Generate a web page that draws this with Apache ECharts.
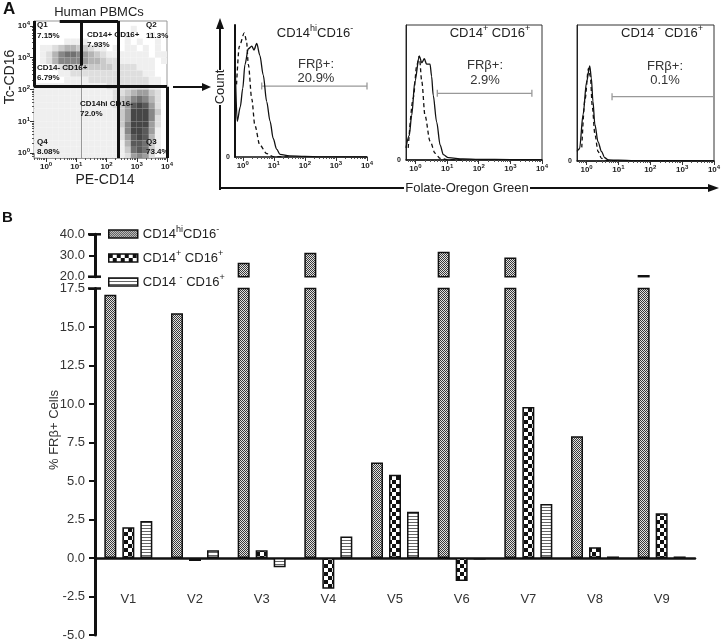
<!DOCTYPE html>
<html><head><meta charset="utf-8">
<script src="https://cdn.jsdelivr.net/npm/echarts@6/dist/echarts.min.js"></script>
<style>html,body{margin:0;padding:0;background:#fff}#c{width:721px;height:640px}</style>
</head><body><div id="c"></div>
<script>
// ===== Panel B data =====
const categories = ['V1','V2','V3','V4','V5','V6','V7','V8','V9'];
const seriesNames = ['CD14hiCD16-','CD14+ CD16+','CD14- CD16+'];
const hiNegValues  = [17.1, 15.9, 26.6, 31.3, 6.2, 31.8, 29.0, 7.9, 20.8];
const posPosValues = [2.0, -0.2, 0.5, -2.0, 5.4, -1.5, 9.8, 0.7, 2.9];
const negPosValues = [2.4, 0.5, -0.6, 1.4, 3.0, -0.1, 3.5, 0.1, 0.1];
const lowerAxis = [-5, 17.5, 2.5];   // min, max, interval
const upperAxis = [20, 40, 10];

// ===== Panel A histogram data (x = log10 fluorescence, y = relative count) =====
const histSolid1  = [[-0.24,66],[-0.18,27],[-0.08,38],[0.0,52],[0.07,70],[0.18,82],[0.29,84],[0.36,81],[0.45,86],[0.55,77],[0.66,62],[0.77,42],[0.88,27],[0.98,14],[1.09,6],[1.2,2],[1.5,0.8],[2.0,0.4],[2.5,0.1],[4.0,0]];
const histDashed1 = [[-0.2,55],[-0.11,84],[0.05,94],[0.12,88],[0.18,70],[0.29,44],[0.39,24],[0.55,9],[0.77,2.6],[0.98,0.3],[1.5,0]];
const histSolid2  = [[-0.3,9],[-0.2,18],[-0.12,33],[-0.02,58],[0.12,77],[0.2,72],[0.28,75],[0.35,71],[0.46,71],[0.51,62],[0.56,48],[0.67,28],[0.78,11],[0.88,4],[1.04,1.7],[1.5,0.8],[2.0,0.5],[3.0,0.3],[4.0,0.2]];
const histDashed2 = [[-0.23,9],[-0.07,46],[0.04,70],[0.12,77],[0.2,58],[0.3,33],[0.46,14],[0.62,5],[0.78,1.2],[1.0,0.3],[1.5,0]];
const histSolid3  = [[-0.3,7],[-0.22,9],[-0.11,34],[0.0,58],[0.1,70],[0.15,61],[0.2,44],[0.26,27],[0.36,14],[0.47,7],[0.57,2.4],[0.68,0.8],[1.0,0.6],[1.5,0.3],[2.0,0.2],[4.0,0.1]];
const histDashed3 = [[-0.15,10],[-0.05,45],[0.06,68],[0.12,62],[0.18,40],[0.26,20],[0.36,7],[0.47,2],[0.6,0.5],[1.0,0]];
const histGates   = [[0.61,4.0,53.7],[0.69,3.68,49.4],[0.8,4.0,47.3]]; // x from, x to, y level
const histTitles  = ['CD14{s|hi}CD16{s|-}','CD14{s|+} CD16{s|+}','CD14 {s|-} CD16{s|+}'];
const histPercent = ['20.9%','2.9%','0.1%'];
const histXRange  = [[-0.25,4],[-0.3,4],[-0.3,4]];

// ===== Panel A dot plot: density levels (0-9) in 0.2-decade bins, top row first =====
const dotXStart = -0.4, dotYStart = -0.2, dotBin = 0.2;
const dotDensityRows = [
 "0000000000000000000000",
 "0000000000000000100000",
 "0000000000000001000100",
 "0000011110000001010010",
 "0112344332110101101010",
 "0124677654321111111011",
 "0124666654432211111101",
 "0001233333333222211100",
 "0000112222222222221100",
 "0000011112222222222110",
 "1111111111112222222110",
 "1111111111111223455320",
 "1111111111111234676420",
 "1111111111111235898520",
 "1111111111111135999630",
 "1111111111111135999620",
 "1111111111111136999520",
 "1111111111111126998510",
 "1111111111111125898410",
 "1111111111111114887310",
 "1111111111111113787310",
 "0111111111111112565200"
];
const gateThick = [[[-0.4,2.09],[-0.4,4.15]],[[0.45,4.15],[2.38,4.15]],[[1.15,4.15],[1.15,2.75]],[[2.38,4.15],[2.38,-0.15]],[[-0.4,2.09],[4.0,2.09]],[[4.0,2.09],[4.0,-0.15]]];
const gateThin  = [[[1.15,2.75],[1.15,-0.15]]];
const quadLabels = [['Q1',37,25],['7.15%',37,36],['CD14+ CD16+',87,35],['7.93%',87,45],['Q2',146,25],['11.3%',146,36],
  ['CD14- CD16+',37,68],['6.79%',37,78],['CD14hi CD16-',80,104],['72.0%',80,114],['Q4',37,142],['8.08%',37,152],['Q3',146,142],['73.4%',146,152]];

// ---------- helpers ----------
const FONT = 'Liberation Sans';
function minorTicks(lo, hi){const out=[];for(let d=-1;d<5;d++)for(let k=2;k<10;k++){const v=d+Math.log10(k);if(v>lo&&v<hi)out.push(v);}return out;}
const decades = [0,1,2,3,4];
const supFmt = v => '{b|10}{s|' + Math.round(v) + '}';
const supRich = {b:{fontSize:8,fontWeight:'bold',color:'#222',lineHeight:11,fontFamily:FONT},s:{fontSize:6,fontWeight:'bold',color:'#222',verticalAlign:'top',lineHeight:6,fontFamily:FONT}};
function logAxes(grid, min, max, isY, lineColor, lineWidth){
  const main = {gridIndex:grid,type:'value',min:min,max:max,
    axisLine:{show:true,onZero:false,lineStyle:{color:lineColor,width:lineWidth}},
    axisTick:{show:true,customValues:decades,length:4,lineStyle:{color:'#333'}},
    axisLabel:{customValues:decades,formatter:supFmt,rich:supRich,margin:isY?4:3},
    splitLine:{show:false}};
  const minor = {gridIndex:grid,type:'value',min:min,max:max,position:isY?'left':'bottom',
    axisLine:{show:false,onZero:false},axisLabel:{show:false},splitLine:{show:false},
    axisTick:{show:true,customValues:minorTicks(min,max),length:2,lineStyle:{color:'#555'}}};
  return [main, minor];
}
function makePattern(w,h,draw){const c=document.createElement('canvas');c.width=w;c.height=h;const g=c.getContext('2d');draw(g);return {image:c,repeat:'repeat'};}
const patFine = makePattern(2,2,g=>{g.fillStyle='#e2e2e2';g.fillRect(0,0,2,2);g.fillStyle='#3a3a3a';g.fillRect(0,0,1,1);g.fillRect(1,1,1,1);});
const patCheck = makePattern(8,8,g=>{g.fillStyle='#fff';g.fillRect(0,0,8,8);g.fillStyle='#111';g.fillRect(0,0,4,4);g.fillRect(4,4,4,4);});
const patStripe = makePattern(1,3,g=>{g.fillStyle='#fff';g.fillRect(0,0,1,3);g.fillStyle='#666';g.fillRect(0,0,1,1);});
const patterns = [patFine, patCheck, patStripe];
const grays = [null,'#efefef','#dedede','#cacaca','#b4b4b4','#9e9e9e','#878787','#717171','#5a5a5a','#464646'];

const dotCells = [];
dotDensityRows.forEach((row,r)=>{const j=dotDensityRows.length-1-r;for(let i=0;i<row.length;i++){const l=+row[i];if(l>0)dotCells.push([dotXStart+i*dotBin,dotYStart+j*dotBin,l]);}});

// ---------- grids ----------
const grids = [
  {left:34,top:21,width:133,height:137,show:true,borderColor:'#999',borderWidth:1},
  {left:235,top:25,width:132,height:132},
  {left:406,top:25,width:136,height:135,show:true,borderColor:'#333',borderWidth:1},
  {left:577,top:25,width:137,height:136,show:true,borderColor:'#333',borderWidth:1},
  {left:95,top:234.3,width:600,height:42.4},
  {left:95,top:288.5,width:600,height:346.5}
].map(g=>Object.assign(g,{outerBoundsMode:'none',containLabel:false}));

const xAxes = [], yAxes = [];
xAxes.push(...logAxes(0,-0.4,4,false,'#999',1));          // 0,1
yAxes.push(...logAxes(0,-0.15,4.15,true,'#999',1));       // 0,1
const histLine = [['#111',2],['#222',1],['#222',1]];
for(let h=0;h<3;h++){
  xAxes.push(...logAxes(h+1,histXRange[h][0],histXRange[h][1],false,'#111',1.5)); // 2..7
  yAxes.push({gridIndex:h+1,type:'value',min:0,max:100,
    axisLine:{show:true,onZero:false,lineStyle:{color:histLine[h][0],width:histLine[h][1]}},
    axisTick:{show:false},splitLine:{show:false},
    axisLabel:{customValues:[0],formatter:()=>'0',fontSize:7,fontWeight:'bold',color:'#222',margin:5}}); // 2,3,4
}
xAxes.push({gridIndex:4,type:'category',data:categories,show:false}); // 8
xAxes.push({gridIndex:5,type:'category',data:categories,
  axisLine:{onZero:true,lineStyle:{color:'#111',width:2.5}},
  axisTick:{alignWithLabel:true,length:6,lineStyle:{color:'#111',width:2}},
  axisLabel:{show:false}}); // 9
const barY = (grid, ax) => ({gridIndex:grid,type:'value',min:ax[0],max:ax[1],interval:ax[2],
  axisLine:{show:true,onZero:false,lineStyle:{color:'#111',width:3}},
  axisTick:{show:true,length:6,lineStyle:{color:'#111',width:2}},
  axisLabel:{formatter:v=>v.toFixed(1),fontSize:13,color:'#333',margin:10,fontFamily:FONT},
  splitLine:{show:false}});
yAxes.push(barY(4,upperAxis)); // 5
yAxes.push(barY(5,lowerAxis)); // 6

// ---------- series ----------
const series = [];
series.push({type:'custom',xAxisIndex:0,yAxisIndex:0,data:dotCells,encode:{x:0,y:1},silent:true,z:1,
  renderItem:(params,api)=>{
    const x0=api.value(0),y0=api.value(1),l=api.value(2);
    const p0=api.coord([x0,y0+dotBin]),p1=api.coord([x0+dotBin,y0]);
    const cs=params.coordSys;
    const rect=echarts.graphic.clipRectByRect({x:p0[0],y:p0[1],width:p1[0]-p0[0],height:p1[1]-p0[1]},{x:cs.x,y:cs.y,width:cs.width,height:cs.height});
    return rect&&{type:'rect',shape:rect,style:{fill:grays[l]}};
  }});
series.push({type:'lines',coordinateSystem:'cartesian2d',xAxisIndex:0,yAxisIndex:0,z:3,silent:true,
  data:gateThin.map(c=>({coords:c})),lineStyle:{color:'#999',width:1,opacity:1}});
series.push({type:'lines',coordinateSystem:'cartesian2d',xAxisIndex:0,yAxisIndex:0,z:4,silent:true,
  data:gateThick.map(c=>({coords:c})),lineStyle:{color:'#111',width:3,opacity:1}});
const solids=[histSolid1,histSolid2,histSolid3], dashes=[histDashed1,histDashed2,histDashed3];
for(let h=0;h<3;h++){
  const xi=2+h*2, yi=2+h;
  series.push({type:'line',xAxisIndex:xi,yAxisIndex:yi,data:solids[h],showSymbol:false,smooth:0.3,smoothMonotone:'x',
    lineStyle:{color:'#111',width:1.3},silent:true,z:3});
  series.push({type:'line',xAxisIndex:xi,yAxisIndex:yi,data:dashes[h],showSymbol:false,smooth:0.3,smoothMonotone:'x',
    lineStyle:{color:'#111',width:1.3,type:[4,3]},silent:true,z:3});
  const g=histGates[h];
  series.push({type:'line',xAxisIndex:xi,yAxisIndex:yi,data:[[g[0],g[2]],[g[1],g[2]]],symbol:'rect',symbolSize:[1.3,7],showSymbol:true,
    itemStyle:{color:'#999'},lineStyle:{color:'#999',width:1.3},silent:true,z:2});
}
const valueSets=[hiNegValues,posPosValues,negPosValues];
for(let s=0;s<3;s++){
  const upper = s===0 ? valueSets[s].map(v=>v>upperAxis[0]?v:'-') : valueSets[s].map(()=> '-');
  series.push({type:'bar',name:seriesNames[s],xAxisIndex:8,yAxisIndex:5,data:upper,barWidth:12,barGap:'50%',clip:true,
    itemStyle:{color:patterns[s],borderColor:'#111',borderWidth:1.5},emphasis:{disabled:true},silent:true});
}
for(let s=0;s<3;s++){
  series.push({type:'bar',name:seriesNames[s],xAxisIndex:9,yAxisIndex:6,data:valueSets[s],barWidth:12,barGap:'50%',clip:true,
    itemStyle:{color:patterns[s],borderColor:'#111',borderWidth:1.5},emphasis:{disabled:true},silent:true});
}

// ---------- annotation text / arrows ----------
const T = (id,text,x,y,opt) => Object.assign({type:'text',id:id,z:50,x:x,y:y,silent:true,
  style:Object.assign({text:text,fontFamily:FONT,fontSize:13,fill:'#222',align:'center',verticalAlign:'middle'},opt||{})});
const L = (id,x1,y1,x2,y2,w) => ({type:'line',id:id,z:50,silent:true,shape:{x1,y1,x2,y2},style:{stroke:'#111',lineWidth:w||2}});
const P = (id,pts) => ({type:'polygon',id:id,z:50,silent:true,shape:{points:pts},style:{fill:'#111'}});
const supTitleRich = {s:{fontSize:9,verticalAlign:'top',lineHeight:9,fontFamily:FONT,fill:'#222'}};
const graphics = [
  T('A','A',3,9,{fontSize:17,fontWeight:'bold',align:'left',fill:'#111'}),
  T('B','B',2,218,{fontSize:15,fontWeight:'bold',align:'left',fill:'#111'}),
  T('hp','Human PBMCs',99,12,{fontSize:13}),
  Object.assign(T('tc','Tc-CD16',10,77,{fontSize:14}),{rotation:Math.PI/2}),
  T('pe','PE-CD14',105,180,{fontSize:14}),
  L('a1',173,87,203,87,2), P('a1h',[[211,87],[202,83],[202,91]]),
  L('cv1',220,190,220,105,2), L('cv2',220,70,220,27,2), P('cvh',[[220,18],[216,29],[224,29]]),
  L('ch1',219,188,404,188,2), L('ch2',530,188,710,188,2), P('chh',[[719,188],[708,184],[708,192]]),
  Object.assign(T('cnt','Count',220,87,{fontSize:13}),{rotation:Math.PI/2}),
  T('fog','Folate-Oregon Green',467,188,{fontSize:13}),
  Object.assign(T('yname','% FR\u03b2+ Cells',54,430,{fontSize:13,fill:'#333'}),{rotation:Math.PI/2})
];
quadLabels.forEach((q,i)=>graphics.push(T('q'+i,q[0],q[1],q[2],{fontSize:8,fontWeight:'bold',align:'left',fill:'#111'})));
const histTextPos = [[315,33,316,64,316,78],[490,33,485,65,485,80],[662,33,665,66,665,80]];
for(let h=0;h<3;h++){
  const p=histTextPos[h];
  graphics.push(T('ht'+h,histTitles[h],p[0],p[1],{fontSize:13,lineHeight:17,rich:supTitleRich}));
  graphics.push(T('hf'+h,'FR\u03b2+:',p[2],p[3],{fontSize:13,fill:'#333'}));
  graphics.push(T('hp'+h,histPercent[h],p[4],p[5],{fontSize:13,fill:'#333'}));
}

const legendRich = {'CD14hiCD16-':'CD14{s|hi}CD16{s|-}','CD14+ CD16+':'CD14{s|+} CD16{s|+}','CD14- CD16+':'CD14 {s|-} CD16{s|+}'};
const chart = echarts.init(document.getElementById('c'),null,{renderer:'canvas'});
chart.setOption({
  animation:false,
  textStyle:{fontFamily:FONT},
  grid:grids, xAxis:xAxes, yAxis:yAxes, series:series,
  legend:{data:seriesNames,orient:'vertical',left:103,top:220,itemWidth:29,itemHeight:8,itemGap:6,icon:'rect',selectedMode:false,
    formatter:n=>legendRich[n],
    itemStyle:{borderColor:'#111',borderWidth:1.5},
    textStyle:{fontSize:13,color:'#222',lineHeight:18,fontFamily:FONT,rich:{s:{fontSize:9,color:'#222',verticalAlign:'top',lineHeight:9,fontFamily:FONT}}}},
  graphic:{elements:graphics}
});
// axis-break caps and category labels placed through the chart's own scales
const capX = grids[4].left;
const extra = [[5,upperAxis[1]],[5,upperAxis[0]],[6,lowerAxis[1]]].map((c,i)=>{
  const y = chart.convertToPixel({yAxisIndex:c[0]}, c[1]);
  return L('cap'+i, capX-7, y, capX+6, y, 2.5);
});
const zeroY = chart.convertToPixel({yAxisIndex:6}, 0);
categories.forEach((c,i)=>{
  const x = chart.convertToPixel({xAxisIndex:9}, c);
  extra.push(T('cat'+i, c, x, zeroY + 41, {fontSize:13, fill:'#333'}));
});
chart.setOption({graphic:{elements:extra}});
</script></body></html>
